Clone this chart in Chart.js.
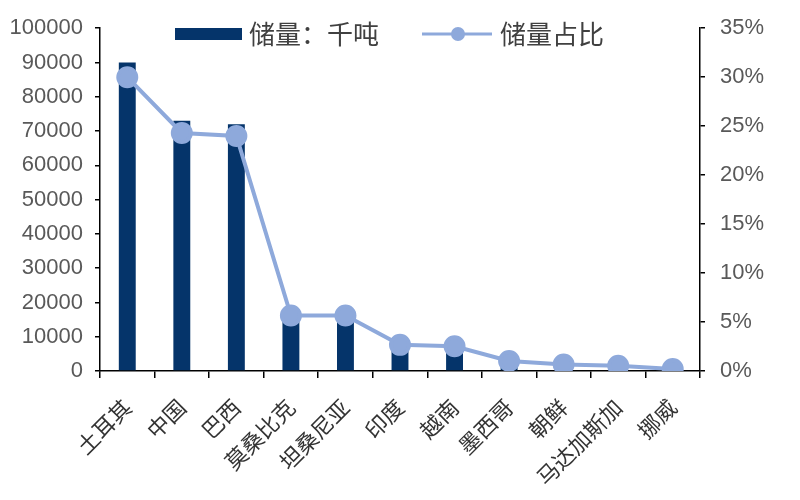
<!DOCTYPE html>
<html>
<head>
<meta charset="utf-8">
<script src="https://cdn.jsdelivr.net/npm/chart.js@4/dist/chart.umd.min.js"></script>
<style>
  html, body { margin: 0; padding: 0; background: #ffffff; }
  #wrap { width: 800px; height: 500px; position: relative; }
</style>
</head>
<body>
<div id="wrap"><canvas id="c" width="800" height="500"></canvas></div>
<script>
// Countries, reserves (thousand tonnes) and share of world reserves (%)
const countries = ['土耳其', '中国', '巴西', '莫桑比克', '坦桑尼亚', '印度', '越南', '墨西哥', '朝鲜', '马达加斯加', '挪威'];
const reserves = [90000, 73000, 72000, 17000, 17000, 8000, 7600, 3100, 2000, 1600, 600];
const shares = [30.0, 24.3, 24.0, 5.67, 5.67, 2.67, 2.53, 1.03, 0.67, 0.53, 0.2];
const reserveTicks = [0, 10000, 20000, 30000, 40000, 50000, 60000, 70000, 80000, 90000, 100000];
const shareTicks = [0, 5, 10, 15, 20, 25, 30, 35];

const barColor = '#05346A';
const lineColor = '#8EA9DB';
const tickColor = '#595959';
const cjkFont = '"Noto Sans CJK SC", "Noto Sans", sans-serif';
const numFont = '"Liberation Sans", Arial, sans-serif';

// Legend drawn inside the plot area, above the bars
const insideLegend = {
  id: 'insideLegend',
  afterDraw(chart) {
    const ctx = chart.ctx;
    const ds = chart.data.datasets;
    const y = 34;
    ctx.save();
    ctx.font = '26px ' + cjkFont;
    ctx.textBaseline = 'middle';
    ctx.textAlign = 'left';
    // bar entry
    ctx.fillStyle = ds[0].backgroundColor;
    ctx.fillRect(175, y - 6, 67, 12);
    ctx.fillStyle = '#404040';
    ctx.fillText(ds[0].label, 249, y);
    // line entry
    ctx.strokeStyle = ds[1].borderColor;
    ctx.lineWidth = 3;
    ctx.beginPath();
    ctx.moveTo(422, y);
    ctx.lineTo(492, y);
    ctx.stroke();
    ctx.fillStyle = ds[1].pointBackgroundColor;
    ctx.beginPath();
    ctx.arc(458, y, 7, 0, Math.PI * 2);
    ctx.fill();
    ctx.fillStyle = '#404040';
    ctx.fillText(ds[1].label, 500, y);
    ctx.restore();
  }
};

new Chart(document.getElementById('c'), {
  data: {
    labels: countries,
    datasets: [
      {
        type: 'bar',
        label: '储量：千吨',
        data: reserves,
        backgroundColor: barColor,
        yAxisID: 'y',
        order: 1,
        barPercentage: 0.31,
        categoryPercentage: 1.0
      },
      {
        type: 'line',
        label: '储量占比',
        data: shares,
        borderColor: lineColor,
        backgroundColor: lineColor,
        pointBackgroundColor: lineColor,
        pointBorderColor: lineColor,
        pointRadius: 9,
        pointHoverRadius: 9,
        borderWidth: 4,
        tension: 0,
        yAxisID: 'y1',
        order: 0
      }
    ]
  },
  plugins: [insideLegend],
  options: {
    responsive: false,
    animation: false,
    layout: { padding: { top: 27, bottom: 0, left: 0, right: 0 } },
    plugins: {
      legend: { display: false },
      tooltip: { enabled: false }
    },
    scales: {
      x: {
        grid: {
          offset: true,
          drawOnChartArea: false,
          drawTicks: true,
          tickLength: 7,
          color: '#000000',
          lineWidth: 1.5
        },
        border: { display: true, color: '#000000', width: 1.5 },
        ticks: {
          color: '#333333',
          font: { family: cjkFont, size: 22 },
          maxRotation: 45,
          minRotation: 45,
          padding: 16,
          autoSkip: false
        },
        afterFit(scale) { scale.height = 129; }
      },
      y: {
        position: 'left',
        min: 0,
        max: 100000,
        afterBuildTicks(scale) { scale.ticks = reserveTicks.map(v => ({ value: v })); },
        grid: {
          drawOnChartArea: false,
          drawTicks: true,
          tickLength: 5,
          color: '#000000',
          lineWidth: 1.5
        },
        border: { display: true, color: '#000000', width: 1.5 },
        ticks: {
          color: tickColor,
          font: { family: numFont, size: 22 },
          padding: 12,
          callback: v => String(v)
        },
        afterFit(scale) { scale.width = 100; }
      },
      y1: {
        position: 'right',
        min: 0,
        max: 35,
        afterBuildTicks(scale) { scale.ticks = shareTicks.map(v => ({ value: v })); },
        grid: {
          drawOnChartArea: false,
          drawTicks: true,
          tickLength: 5,
          color: '#000000',
          lineWidth: 1.5
        },
        border: { display: true, color: '#000000', width: 1.5 },
        ticks: {
          color: tickColor,
          font: { family: numFont, size: 22 },
          padding: 15,
          callback: v => v + '%'
        },
        afterFit(scale) { scale.width = 100; }
      }
    }
  }
});
</script>
</body>
</html>
